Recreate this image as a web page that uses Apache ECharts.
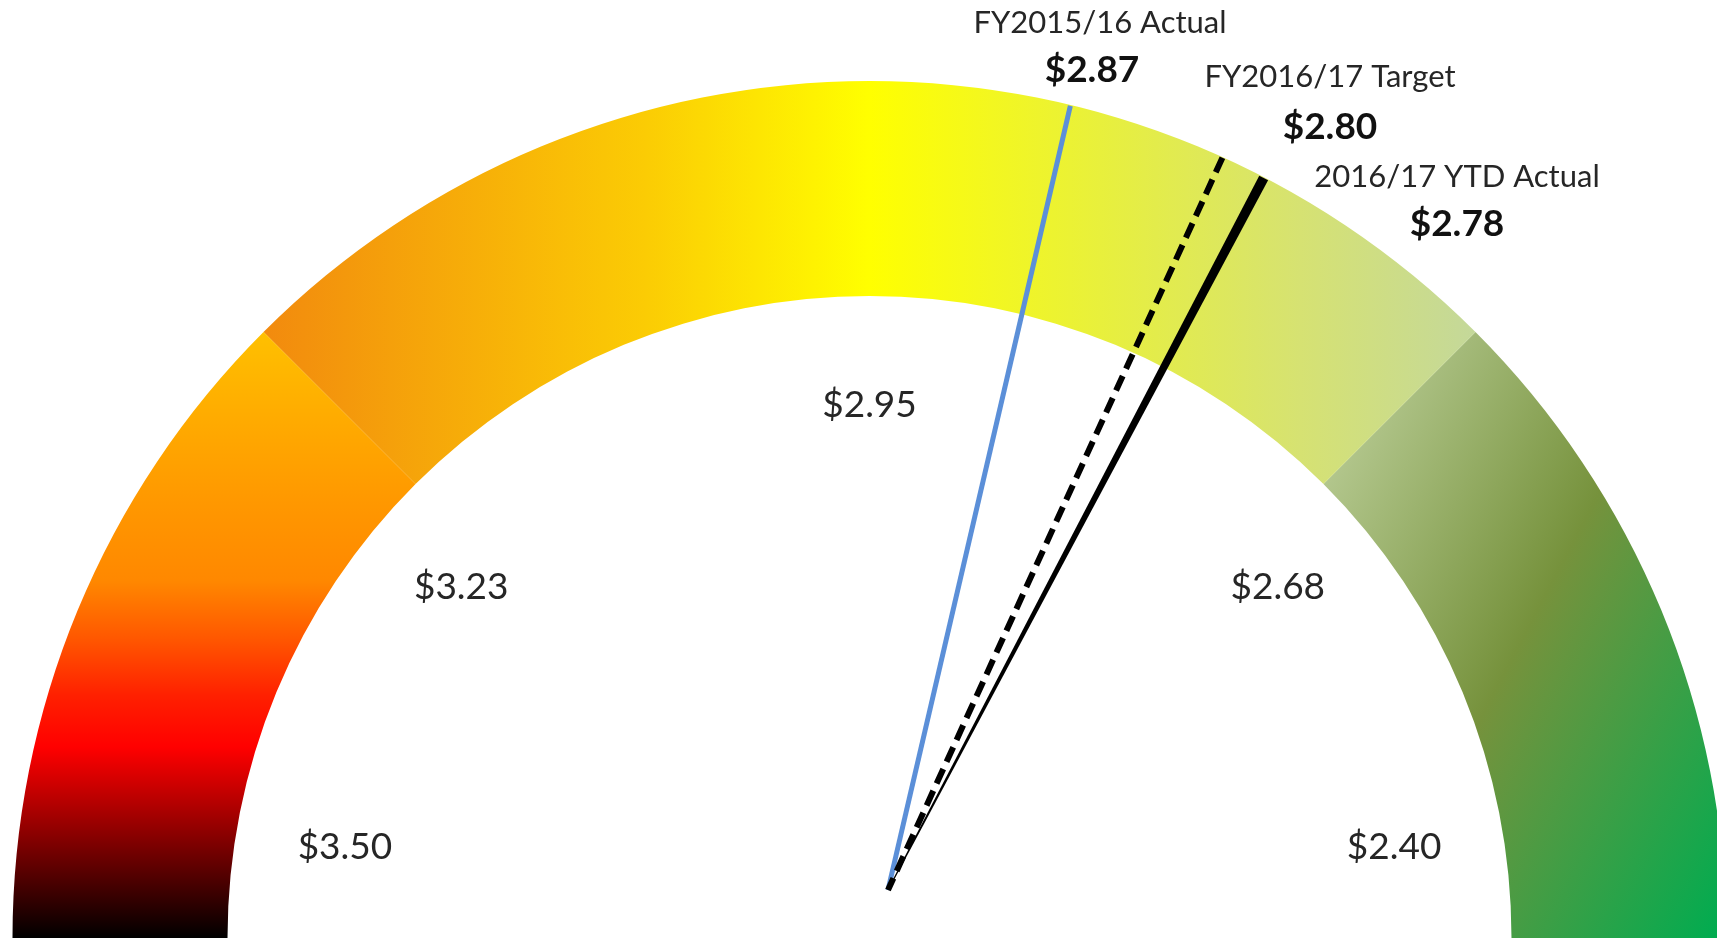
<!DOCTYPE html>
<html>
<head>
<meta charset="utf-8">
<script src="https://cdn.jsdelivr.net/npm/echarts@6/dist/echarts.min.js"></script>
<style>
html,body{margin:0;padding:0;background:#ffffff;}
#chart{width:1717px;height:938px;}
</style>
</head>
<body>
<div id="chart"></div>
<script>
// ---- data ----
const scaleMin = 3.50;           // left end of the dial
const scaleMax = 2.40;           // right end of the dial
const tickValues = [3.50, 3.225, 2.95, 2.675, 2.40];
const tickLabels = ['$3.50', '$3.23', '$2.95', '$2.68', '$2.40'];
const bandEnds = [3.225, 2.675, 2.40];
const markerNames = ['FY2015/16 Actual', 'FY2016/17 Target', '2016/17 YTD Actual'];
const markerValues = [2.87, 2.80, 2.78];

// ---- styles ----
const FONT = 'Lato, "Open Sans", sans-serif';
const bandFills = [
  { type: 'linear', x: 0, y: 332, x2: 0, y2: 938, global: true, colorStops: [
    { offset: 0, color: '#FFC000' }, { offset: 0.15, color: '#FFAA00' },
    { offset: 0.28, color: '#FF9800' }, { offset: 0.41, color: '#FF8800' },
    { offset: 0.51, color: '#FF5500' }, { offset: 0.60, color: '#FF2000' },
    { offset: 0.685, color: '#FF0000' }, { offset: 1, color: '#000000' } ] },
  { type: 'linear', x: 263, y: 0, x2: 1476, y2: 0, global: true, colorStops: [
    { offset: 0, color: '#F28A0E' }, { offset: 0.316, color: '#FBCC04' },
    { offset: 0.5, color: '#FFFF00' }, { offset: 0.69, color: '#E8F03C' },
    { offset: 0.855, color: '#D6E272' }, { offset: 1, color: '#C4D89A' } ] },
  { type: 'linear', x: 1333, y: 471, x2: 1827, y2: 731, global: true, colorStops: [
    { offset: 0, color: '#B2C68C' }, { offset: 0.44, color: '#76923C' },
    { offset: 1, color: '#00AC50' } ] }
];
const pointerStyles = [
  { pointer: { show: true, icon: 'rect', width: 5, length: '100%', keepAspect: false },
    itemStyle: { color: '#5B8FD8' } },
  { pointer: { show: true, icon: 'path://M0,0 L0,100 M-1,0 M1,0', width: 2, length: '100%', keepAspect: false },
    itemStyle: { color: 'none', borderColor: '#000000', borderWidth: 6, borderType: [16, 8] } },
  { pointer: { show: true, icon: 'path://M0,0 L10,0 L5.6,100 L4.4,100 Z', width: 10, length: '100%', keepAspect: false },
    itemStyle: { color: '#000000' } }
];
const titleOffsets = [[212, -867], [442, -813], [569, -713]];
const detailOffsets = [[204, -820], [442, -763], [569, -666]];

const span = scaleMin - scaleMax;
const axisColors = bandEnds.map((v, i) => [(scaleMin - v) / span, bandFills[i]]);

function tickIndex(v) {
  let best = 0;
  tickValues.forEach((t, i) => { if (Math.abs(t - v) < Math.abs(tickValues[best] - v)) best = i; });
  return best;
}
function tickText(v) {
  const i = tickIndex(v);
  // the top label sits a little lower inside the arc
  return i === 2 ? '{top|' + tickLabels[i] + '}' : tickLabels[i];
}

const hidden = {
  axisTick: { show: false },
  splitLine: { show: false, length: 0, distance: 0 },
  pointer: { show: false },
  anchor: { show: false },
  title: { show: false },
  detail: { show: false }
};

function labelGauge(min, max, startAngle, endAngle, splitNumber, radius) {
  return Object.assign({
    type: 'gauge', center: [869.5, 938], radius: radius,
    startAngle: startAngle, endAngle: endAngle, min: min, max: max,
    splitNumber: splitNumber,
    axisLine: { show: false },
    axisLabel: { show: true, distance: 0, formatter: tickText, color: '#262626',
      fontSize: 37, fontFamily: FONT,
      rich: { top: { padding: [24, 0, 0, 0], fontSize: 37, fontFamily: FONT, color: '#262626' } } },
    data: [{ value: min }],
    z: 3
  }, hidden);
}

function pointerGauge(i) {
  return {
    type: 'gauge', center: [888, 890], radius: 805,
    startAngle: 180, endAngle: 0, min: scaleMin, max: scaleMax,
    axisLine: { show: false },
    axisTick: { show: false },
    splitLine: { show: false },
    axisLabel: { show: false },
    anchor: { show: false },
    pointer: pointerStyles[i].pointer,
    itemStyle: pointerStyles[i].itemStyle,
    title: { show: true, fontSize: 31, color: '#262626', fontFamily: FONT,
      offsetCenter: titleOffsets[i] },
    detail: { show: true, fontSize: 37, fontWeight: 'bold', color: '#111111',
      fontFamily: FONT, width: 140, lineHeight: 44, padding: 0,
      offsetCenter: detailOffsets[i],
      formatter: v => '$' + v.toFixed(2), valueAnimation: false },
    data: [{ value: markerValues[i], name: markerNames[i] }],
    z: 4 + i
  };
}

const option = {
  animation: false,
  backgroundColor: '#ffffff',
  series: [
    Object.assign({
      type: 'gauge', center: [869.5, 938], radius: 857,
      startAngle: 180, endAngle: 0, min: scaleMin, max: scaleMax,
      axisLine: { show: true, lineStyle: { width: 215, color: axisColors } },
      axisLabel: { show: false },
      data: [{ value: scaleMin }],
      z: 1
    }, hidden),
    labelGauge(tickValues[0], tickValues[4], 171, 9, 1, 579),
    labelGauge(tickValues[1], tickValues[3], 142.4, 37.6, 2, 575),
    pointerGauge(0),
    pointerGauge(1),
    pointerGauge(2)
  ]
};

const chart = echarts.init(document.getElementById('chart'), null, { renderer: 'canvas' });
chart.setOption(option);
</script>
</body>
</html>
